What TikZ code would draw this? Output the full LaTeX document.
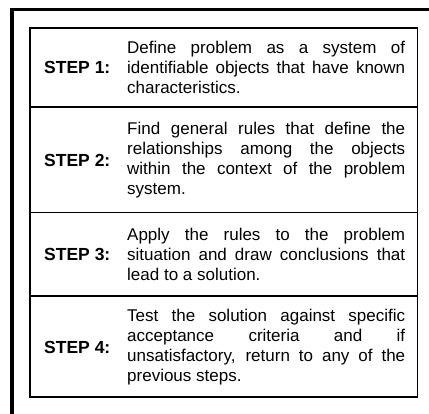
\documentclass[tikz,border=0pt]{standalone}
\usepackage{fontspec}
\setmainfont{Liberation Sans}
% forced line breaks in justified text: silence loose-line complaints
\tolerance=10000
\hbadness=10000
\begin{document}
\begin{tikzpicture}[x=1pt,y=-1pt,
  frameline/.style={line width=3.5pt,line join=miter},
  tableline/.style={line width=1.5pt},
  steplabel/.style={anchor=west,inner sep=0pt,font=\fontsize{17.5}{20}\selectfont\bfseries},
  steptext/.style={anchor=west,inner sep=0pt,text width=278pt,align=justify,
    font=\fontsize{17}{20}\selectfont}]
  \useasboundingbox (0,0) rectangle (429,414);
  % open outer frame (left and top edges)
  \coordinate (fbl) at (12,414);
  \coordinate (ftl) at (12,9.5);
  \coordinate (ftr) at (429,9.5);
  \draw[frameline] (fbl) -- (ftl) -- (ftr);
  % table rows
  \draw[tableline] (30,28) rectangle (417.5,107);
  \draw[tableline] (30,107) rectangle (417.5,212.5);
  \draw[tableline] (30,212.5) rectangle (417.5,296);
  \draw[tableline] (30,296) rectangle (417.5,397);
  % row 1
  \node[steplabel] (l1) at (44,67.5) {STEP 1:};
  \node[steptext] (t1) at (127,67.5) {Define problem as a system of\linebreak
    identifiable objects that have known\linebreak characteristics.};
  % row 2
  \node[steplabel] (l2) at (44,160) {STEP 2:};
  \node[steptext] (t2) at (127,160) {Find general rules that define the\linebreak
    relationships among the objects\linebreak within the context of the problem\linebreak system.};
  % row 3
  \node[steplabel] (l3) at (44,254.5) {STEP 3:};
  \node[steptext] (t3) at (127,254.5) {Apply the rules to the problem\linebreak
    situation and draw conclusions that\linebreak lead to a solution.};
  % row 4
  \node[steplabel] (l4) at (44,347) {STEP 4:};
  \node[steptext] (t4) at (127,347) {Test the solution against specific\linebreak
    acceptance criteria and if\linebreak unsatisfactory, return to any of the\linebreak previous steps.};
\end{tikzpicture}
\end{document}
